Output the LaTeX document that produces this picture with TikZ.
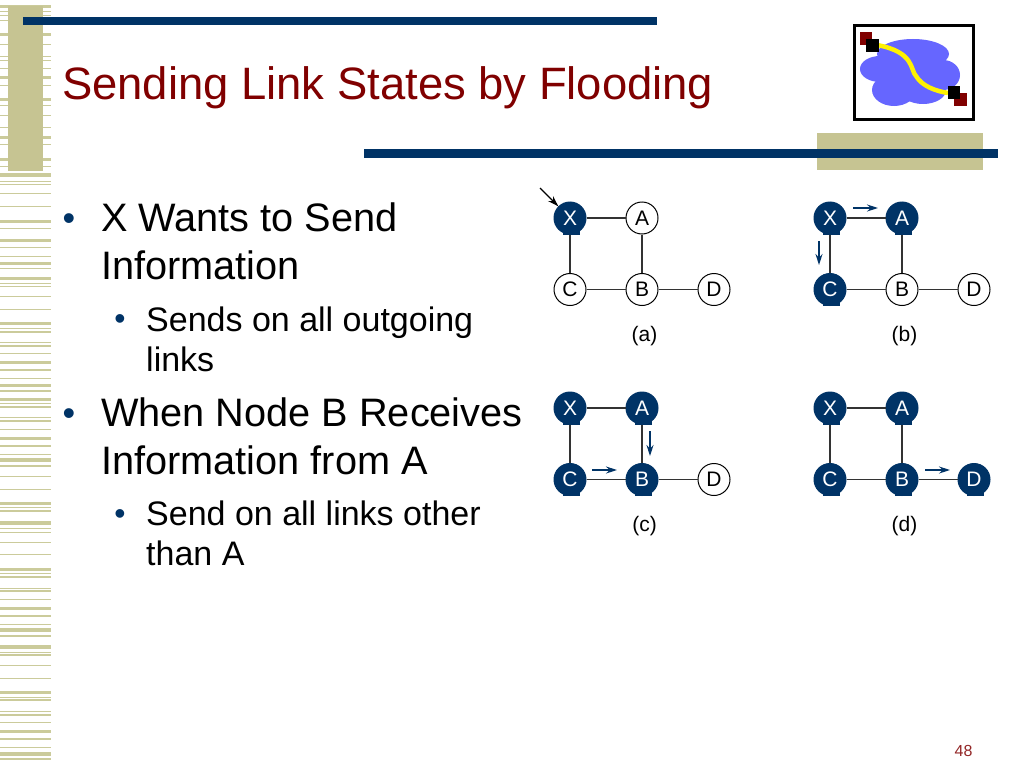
\documentclass[tikz,border=0pt]{standalone}
\usepackage{fontspec}
\setmainfont{Liberation Sans}
\usetikzlibrary{arrows.meta}
\definecolor{navy}{HTML}{003366}
\definecolor{tan}{HTML}{C6C492}
\definecolor{stripe}{HTML}{CBCB9B}
\definecolor{titlered}{HTML}{800000}
\definecolor{cloudblue}{HTML}{6666FF}

\tikzset{
  linknode/.style={circle,draw=black,line width=1pt,fill=white,minimum size=32pt,inner sep=0pt,font=\fontsize{21}{24}\selectfont},
  sent/.style={linknode,fill=navy,draw=navy,text=white,
    append after command={\pgfextra{\fill[navy] ([xshift=-7pt]\tikzlastnode.south) rectangle ([xshift=10pt,yshift=5pt]\tikzlastnode.south);}}},
  link/.style={line width=1.5pt,draw=black!80},
  flood/.style={line width=1.3pt,draw=navy,-{Stealth[length=11pt,width=7pt]}},
  bigtext/.style={anchor=north west,align=left,inner sep=0pt,font=\fontsize{39.7}{48}\selectfont},
  smalltext/.style={anchor=north west,align=left,inner sep=0pt,font=\fontsize{34}{40}\selectfont},
  bigdot/.style={text=navy,inner sep=0pt,font=\fontsize{36}{36}\selectfont},
  smalldot/.style={text=navy,inner sep=0pt,font=\fontsize{32}{32}\selectfont},
}

% #1 panel name, #2 #3 position of X, #4..#8 styles of X A C B D
\newcommand{\linkpanel}[8]{
  \node[#4] (X#1) at (#2,#3) {X};
  \node[#5] (A#1) at (#2+72,#3) {A};
  \node[#6] (C#1) at (#2,#3+71.5) {C};
  \node[#7] (B#1) at (#2+72,#3+71.5) {B};
  \node[#8] (D#1) at (#2+144,#3+71.5) {D};
  \draw[link] (X#1) -- (A#1);
  \draw[link] (X#1) -- (C#1);
  \draw[link] (A#1) -- (B#1);
  \draw[link] (C#1) -- (B#1);
  \draw[link] (B#1) -- (D#1);
  \node[font=\fontsize{21}{24}\selectfont] (cap#1) at (#2+74.5,#3+118) {(#1)};
}

\begin{document}
\begin{tikzpicture}[x=1pt,y=-1pt]
    \useasboundingbox (0,0) rectangle (1024,768);
    \fill[white] (0,0) rectangle (1024,768);

    % Left stripes
    \foreach \y/\h in {7/3,12/1,16/1,21/1,35/3,45/1,57/1,60/1,68/1,77/3,85/1,99/3,105/1,115/1,127/1,137/3,144/1,159/3,166/1,
      175/4,181/1,184/1,193/1,206/1,221/3,228/1,240/3,247/1,256/1,263/3,268/1,278/3,283/1,286/1,296/1,309/1,323/3,328/1,332/2,
      342/1,346/2,353/1,362/3,370/1.5,378/1,385/3,391/1.5,399/3,403/1,407/1.5,417/1,421/2,429/1,438/3,446/1.5,454/1,460/4,466/1.5,
      476/1,489/1,503/3,507/1,511/1.5,523/4,528/1,532/1,542/1,554/1,569/3,573/1,577/2,588/1,591/2,599/1,608/3,616/1.5,624/1,630/4,
      636/1.5,647/4,652/1,655/1.5,665/1,678/1,692/3,697/1,700/1.5,711/1,715/2,722/1,731/3,739/1.5,747/1,754/3.5,759/1.5}
      \fill[stripe] (0,\y-\h/2) rectangle (51,\y+\h/2);

    % Bars
    \fill[tan] (8,6) rectangle (43,171);
    \fill[tan] (817,133) rectangle (983,170);
    \fill[navy] (23,17) rectangle (657,25);
    \fill[navy] (364,149) rectangle (998,158);

    % Title
    \node[anchor=base west,inner sep=0pt,text=titlered,font=\fontsize{45.4}{50}\selectfont] (title) at (62,99) {Sending Link States by Flooding};

    % Icon
    \draw[line width=3pt,fill=white] (854,26) rectangle (973,119);
    \fill[cloudblue] (913,54) ellipse (36 and 15);
    \fill[cloudblue] (880,69) ellipse (20 and 13);
    \fill[cloudblue] (894,90) ellipse (22 and 16);
    \fill[cloudblue] (923,90) ellipse (23 and 14);
    \fill[cloudblue] (943,75) ellipse (17 and 15);
    \fill[cloudblue] (912,72) ellipse (34 and 23);
    \draw[line width=4.5pt,yellow] (877,45) .. controls (915,52) and (910,70) .. (916,76) .. controls (922,86) and (935,91) .. (948,93);
    \fill[titlered] (860,32) rectangle (872,45);
    \fill[black] (866,39) rectangle (879,52);
    \fill[titlered] (954,93) rectangle (967,106);
    \fill[black] (948,86) rectangle (960,99);

    % Text
    \node[bigdot] (dot1) at (69,222) {•};
    \node[bigtext] (txt1) at (101,203) {X Wants to Send\\Information};
    \node[smalldot] (dot2) at (120,322.5) {•};
    \node[smalltext] (txt2) at (146,307) {Sends on all outgoing\\links};
    \node[bigdot] (dot3) at (69,417) {•};
    \node[bigtext] (txt3) at (101,398) {When Node B Receives\\Information from A};
    \node[smalldot] (dot4) at (120,517.5) {•};
    \node[smalltext] (txt4) at (146,501) {Send on all links other\\than A};

    % Panels
    \linkpanel{a}{570}{218}{sent}{linknode}{linknode}{linknode}{linknode}
    \linkpanel{b}{830}{218}{sent}{sent}{sent}{linknode}{linknode}
    \linkpanel{c}{570}{408}{sent}{sent}{sent}{sent}{linknode}
    \linkpanel{d}{830}{408}{sent}{sent}{sent}{sent}{sent}

    % Flooding arrows
    \coordinate (in1) at (540,188);
    \draw[line width=1.3pt,-{Stealth[length=11pt,width=7pt]}] (in1) -- (Xa);
    \coordinate (xab) at (853,208);
    \coordinate (xae) at (878,208);
    \draw[flood] (xab) -- (xae);
    \coordinate (xcb) at (819,241);
    \coordinate (xce) at (819,265);
    \draw[flood] (xcb) -- (xce);
    \coordinate (abb) at (650,431);
    \coordinate (abe) at (650,456);
    \draw[flood] (abb) -- (abe);
    \coordinate (cbb) at (592,470);
    \coordinate (cbe) at (617,470);
    \draw[flood] (cbb) -- (cbe);
    \coordinate (bdb) at (925,470);
    \coordinate (bde) at (950,470);
    \draw[flood] (bdb) -- (bde);

    % Page number
    \node[text=titlered!85!white,font=\fontsize{16}{18}\selectfont] (pagenum) at (963.5,751) {48};
\end{tikzpicture}
\end{document}
